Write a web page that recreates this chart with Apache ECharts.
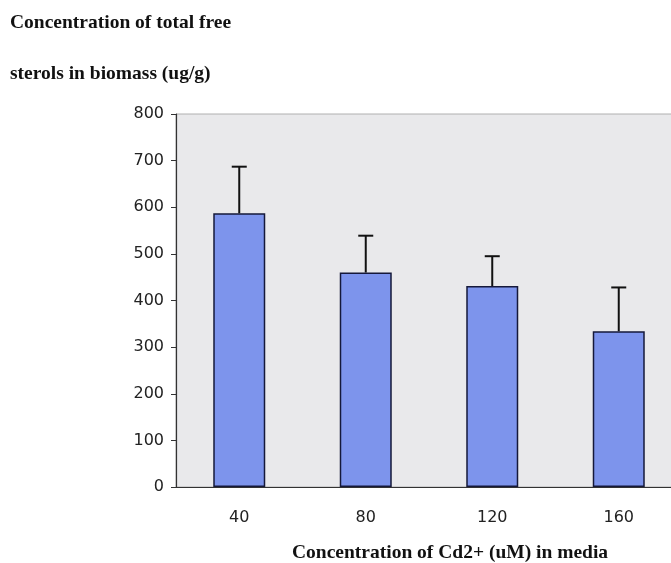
<!DOCTYPE html>
<html>
<head>
<meta charset="utf-8">
<script src="https://cdn.jsdelivr.net/npm/echarts@6/dist/echarts.min.js"></script>
<style>
  html, body { margin: 0; padding: 0; background: #ffffff; }
  #chart { width: 671px; height: 563px; }
</style>
</head>
<body>
<div id="chart"></div>
<script>
// Cd2+ concentration in the growth media (uM)
const categories = ['40', '80', '120', '160'];
// Mean total free sterols in biomass (ug/g)
const sterolMeans = [587, 460, 431, 334];
// Upper end of the error bar for each mean
const errorTops = [687, 539, 495, 428];
// Value axis tick settings
const yMin = 0;
const yMax = 800;
const yStep = 100;

const chart = echarts.init(document.getElementById('chart'), null, { renderer: 'canvas' });

const titleFont = 'bold 19.5px "Liberation Serif", "Times New Roman", serif';
const tickFont = '"DejaVu Sans", Arial, sans-serif';

const option = {
  animation: false,
  backgroundColor: '#ffffff',
  graphic: [
    {
      type: 'text', x: 10, y: 33,
      style: { text: 'Concentration of total free', font: titleFont, fill: '#111', textVerticalAlign: 'bottom' }
    },
    {
      type: 'text', x: 10, y: 84,
      style: { text: 'sterols in biomass (ug/g)', font: titleFont, fill: '#111', textVerticalAlign: 'bottom' }
    },
    {
      type: 'text', x: 292, y: 563,
      style: { text: 'Concentration of Cd2+ (uM) in media', font: titleFont, fill: '#111', textVerticalAlign: 'bottom' }
    }
  ],
  grid: {
    left: 176, top: 114, width: 506, height: 373,
    outerBoundsMode: 'none',
    containLabel: false,
    show: true, backgroundColor: '#e9e9eb', borderColor: '#b0b0b0', borderWidth: 1
  },
  xAxis: {
    type: 'category',
    data: categories,
    axisLine: { lineStyle: { color: '#333', width: 1.2 } },
    axisTick: { show: false },
    axisLabel: { color: '#222', fontSize: 16, fontFamily: tickFont, margin: 23 },
    splitLine: { show: false }
  },
  yAxis: {
    type: 'value',
    min: yMin, max: yMax, interval: yStep,
    axisLine: { show: true, lineStyle: { color: '#333', width: 1.2 } },
    axisTick: { show: true, length: 5, lineStyle: { color: '#333' } },
    axisLabel: { color: '#222', fontSize: 16, fontFamily: tickFont, margin: 12 },
    splitLine: { show: false }
  },
  series: [
    {
      type: 'bar',
      data: sterolMeans,
      barWidth: 52,
      itemStyle: { color: '#7d94ec', borderColor: '#15183a', borderWidth: 1.5 },
      z: 2
    },
    {
      type: 'custom',
      z: 3,
      data: categories.map((c, i) => [i, sterolMeans[i], errorTops[i]]),
      renderItem: function (params, api) {
        const base = api.coord([api.value(0), api.value(1)]);
        const top = api.coord([api.value(0), api.value(2)]);
        const half = 7.5;
        return {
          type: 'group',
          children: [
            { type: 'line', shape: { x1: base[0], y1: base[1], x2: top[0], y2: top[1] },
              style: { stroke: '#111', lineWidth: 2 } },
            { type: 'line', shape: { x1: top[0] - half, y1: top[1], x2: top[0] + half, y2: top[1] },
              style: { stroke: '#111', lineWidth: 2 } }
          ]
        };
      }
    }
  ]
};

chart.setOption(option);
</script>
</body>
</html>
